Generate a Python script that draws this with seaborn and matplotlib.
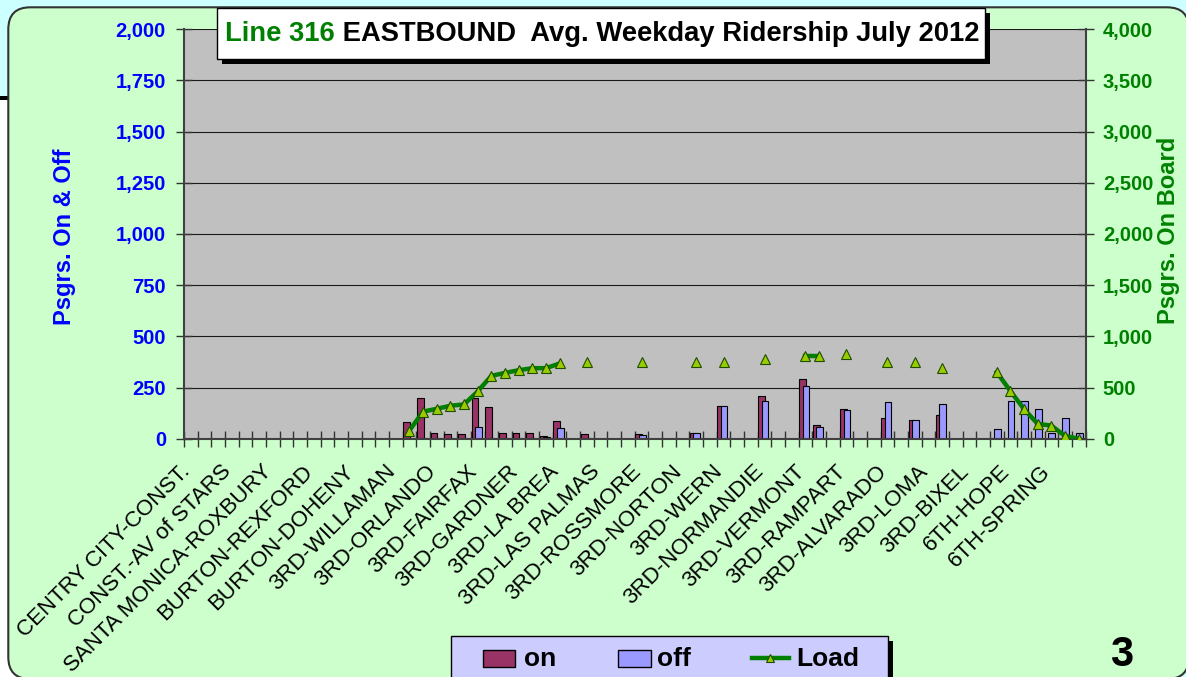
import matplotlib
matplotlib.use("Agg")
import matplotlib.pyplot as plt
from matplotlib.patches import Rectangle, FancyBboxPatch
from matplotlib.lines import Line2D
from matplotlib.ticker import FuncFormatter
from matplotlib.transforms import IdentityTransform, ScaledTranslation
import seaborn as sns
import pandas as pd
import numpy as np

# ---- data (July 2012) ----
n_stops = 66
label_every = 3
stop_labels = [
    "CENTRY CITY-CONST.", "CONST.-AV of STARS", "SANTA MONICA-ROXBURY",
    "BURTON-REXFORD", "BURTON-DOHENY", "3RD-WILLAMAN", "3RD-ORLANDO",
    "3RD-FAIRFAX", "3RD-GARDNER", "3RD-LA BREA", "3RD-LAS PALMAS",
    "3RD-ROSSMORE", "3RD-NORTON", "3RD-WERN", "3RD-NORMANDIE",
    "3RD-VERMONT", "3RD-RAMPART", "3RD-ALVARADO", "3RD-LOMA",
    "3RD-BIXEL", "6TH-HOPE", "6TH-SPRING",
]

# stops (position along the route) that have counts
stop_idx = [16, 17, 18, 19, 20, 21, 22, 23, 24, 25, 26, 27,
            29, 33, 37, 39, 42, 45, 46, 48, 51, 53, 55,
            59, 60, 61, 62, 63, 64, 65]
psgrs_on = [82, 199, 30, 22, 22, 199, 154, 30, 30, 30, 15, 87,
            22, 22, 30, 162, 207, 294, 66, 146, 103, 90, 117,
            4, 4, 4, 4, 0, 0, 0]
psgrs_off = [5, 5, 3, 3, 3, 59, 5, 5, 5, 5, 8, 51,
             3, 20, 30, 162, 184, 258, 58, 140, 177, 90, 169,
             46, 185, 185, 146, 30, 103, 30]
load = [79, 265, 292, 322, 335, 462, 614, 643, 669, 689, 689, 735,
        748, 748, 748, 748, 774, 807, 807, 824, 748, 748, 689,
        650, 466, 289, 145, 128, 27, 0]

on_color = "#993366"
off_color = "#9999ff"
load_color = "#008000"
marker_face = "#99cc00"
blue = "#0000ff"

plt.rcParams["font.family"] = ["Liberation Sans", "DejaVu Sans"]
plt.rcParams["font.weight"] = "bold"

W, H = 1186, 677
fig = plt.figure(figsize=(W / 100, H / 100), dpi=100, facecolor="#ccffff")


def fx(px):
    return px / W


def fy(py):
    return 1 - py / H


def box(x0, y0, x1, y1, **kw):
    r = Rectangle((fx(x0), fy(y1)), (x1 - x0) / W, (y1 - y0) / H,
                  transform=fig.transFigure, **kw)
    fig.add_artist(r)
    return r


# slide background bits and the rounded chart panel (behind the axes)
box(0, 100, 22, 677, fc="white", ec="none", zorder=-3)
box(0, 95.7, 22, 100, fc="black", ec="none", zorder=-3)
fig.add_artist(FancyBboxPatch((8.3, -2), 1180.7, 671.7,
                              boxstyle="round,pad=0,rounding_size=22",
                              transform=IdentityTransform(),
                              fc="#ccffcc", ec="#333333", lw=1.5, zorder=-2))

ax = fig.add_axes([fx(184), fy(438.7), (1085.5 - 184) / W, (438.7 - 29.3) / H])
ax.set_facecolor("#c0c0c0")

df = pd.DataFrame({"stop": stop_idx, "on": psgrs_on,
                   "off": psgrs_off, "load": load})
df["run"] = (df["stop"].diff() != 1).cumsum()

sns.barplot(x=df["stop"] - 0.2, y=df["on"], native_scale=True, orient="x",
            width=0.5, color=on_color, saturation=1, edgecolor="black",
            linewidth=0.8, errorbar=None, ax=ax)
sns.barplot(x=df["stop"] + 0.04, y=df["off"], native_scale=True, orient="x",
            width=0.5, color=off_color, saturation=1, edgecolor="black",
            linewidth=0.8, errorbar=None, ax=ax)

ax2 = ax.twinx()
sns.lineplot(data=df, x="stop", y="load", units="run", estimator=None,
             color=load_color, linewidth=3.2, marker="^", markersize=7,
             markerfacecolor=marker_face, markeredgecolor="#1f4d00",
             markeredgewidth=0.8, legend=False, ax=ax2)

# axes
ax.set_xlim(-0.5, n_stops - 0.5)
ax.set_ylim(0, 2000)
ax.set_yticks(np.arange(0, 2001, 250))
ax2.set_ylim(0, 4000)
ax2.set_yticks(np.arange(0, 4001, 500))
fmt = FuncFormatter(lambda v, p: f"{v:,.0f}")
ax.yaxis.set_major_formatter(fmt)
ax2.yaxis.set_major_formatter(fmt)
ax.set_xlabel("")
ax.set_ylabel("")
ax2.set_ylabel("")

ax.yaxis.grid(True, color="#1a1a1a", linewidth=0.8)
ax.set_axisbelow(True)

ax.set_xticks(np.arange(0, n_stops, label_every))
ax.set_xticklabels(stop_labels, rotation=45, ha="right", va="top",
                   fontsize=16, fontweight="normal")
ax.set_xticks(np.arange(-0.5, n_stops), minor=True)
ax.tick_params(axis="x", which="major", length=0, pad=16)
ax.tick_params(axis="x", which="minor", direction="inout", length=11,
               width=1, color="#333333")
ax.tick_params(axis="y", direction="inout", length=11, width=1,
               color="#333333", labelcolor=blue, labelsize=14.5, pad=7.5)
ax2.tick_params(axis="y", direction="inout", length=11, width=1,
                color="#333333", labelcolor=load_color, labelsize=14.5, pad=7)
nudge = ScaledTranslation(3.5 / 100, 0, fig.dpi_scale_trans)
for lbl in ax.get_xticklabels():
    lbl.set_transform(lbl.get_transform() + nudge)

for s in ["top", "right"]:
    ax.spines[s].set_visible(False)
for s in ["top", "left", "bottom"]:
    ax2.spines[s].set_visible(False)
for sp in [ax.spines["left"], ax.spines["bottom"], ax2.spines["right"]]:
    sp.set_color("#404040")
    sp.set_linewidth(1.5)

# axis titles
fig.text(fx(64), fy(237), "Psgrs. On & Off", rotation=90, color=blue,
         fontsize=17, ha="center", va="center")
fig.text(fx(1168), fy(230), "Psgrs. On Board", rotation=90, color=load_color,
         fontsize=17, ha="center", va="center")

# title box
box(221.7, 13.3, 990, 64, fc="black", ec="none")
box(216.7, 8.3, 985, 59, fc="white", ec="black", lw=1)
t1 = fig.text(fx(225), fy(34), "Line 316", color=load_color, fontsize=19.7,
              ha="left", va="center")
fig.canvas.draw()
end = t1.get_window_extent().x1
fig.text(end / W, fy(34), " EASTBOUND  Avg. Weekday Ridership July 2012",
         color="black", fontsize=19.7, ha="left", va="center")

# legend
box(456, 641, 893, 690, fc="black", ec="none")
box(451, 636, 888, 685, fc="#ccccff", ec="black", lw=1)
box(482.5, 650, 515, 667, fc=on_color, ec="black", lw=1)
fig.text(fx(524), fy(658.5), "on", fontsize=19, ha="left", va="center")
box(617.5, 650, 651, 667, fc=off_color, ec="black", lw=1)
fig.text(fx(657), fy(658.5), "off", fontsize=19, ha="left", va="center")
fig.add_artist(Line2D([fx(751.5), fx(789)], [fy(658), fy(658)],
                      transform=fig.transFigure, color=load_color, lw=3.2))
fig.add_artist(Line2D([fx(770)], [fy(658)], transform=fig.transFigure,
                      marker="^", markersize=6, markerfacecolor=marker_face,
                      markeredgecolor="#1f4d00", markeredgewidth=0.8, lw=0))
fig.text(fx(796.5), fy(658.5), "Load", fontsize=19, ha="left", va="center")

fig.text(fx(1122), fy(655), "3", fontsize=30, ha="center", va="center")

fig.savefig("out.png", dpi=100, facecolor=fig.get_facecolor())
